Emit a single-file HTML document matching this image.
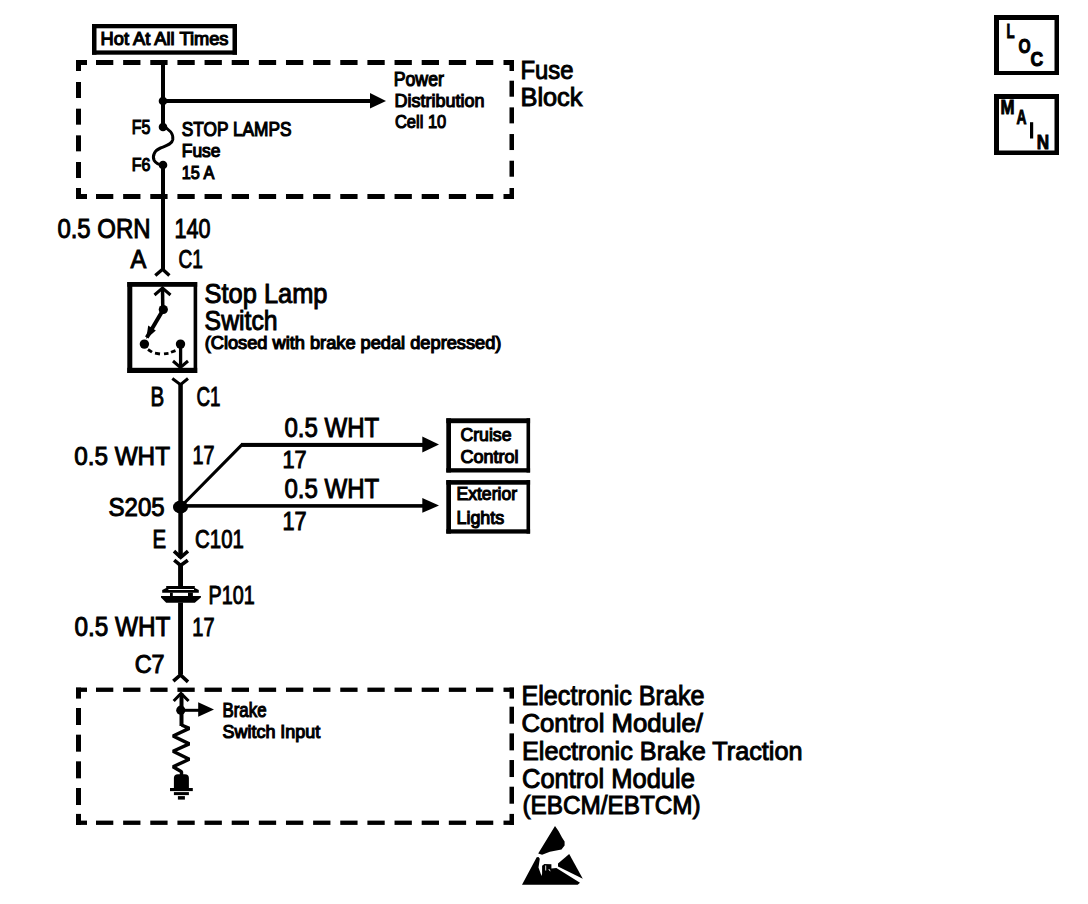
<!DOCTYPE html>
<html><head><meta charset="utf-8"><style>
html,body{margin:0;padding:0;background:#fff;}
svg{display:block;}
text{font-family:"Liberation Sans",sans-serif;fill:#000;}
</style></head><body>
<svg width="1088" height="904" viewBox="0 0 1088 904">
<rect x="76.00" y="60.00" width="11.00" height="5.00" fill="#000"/>
<rect x="76.00" y="60.00" width="5.00" height="11.00" fill="#000"/>
<rect x="503.50" y="60.00" width="10.50" height="5.00" fill="#000"/>
<rect x="509.50" y="60.00" width="4.50" height="11.00" fill="#000"/>
<rect x="76.00" y="194.00" width="11.00" height="5.00" fill="#000"/>
<rect x="76.00" y="188.00" width="5.00" height="11.00" fill="#000"/>
<rect x="503.50" y="194.00" width="10.50" height="5.00" fill="#000"/>
<rect x="509.50" y="188.00" width="4.50" height="11.00" fill="#000"/>
<rect x="96.00" y="60.00" width="17.30" height="5.00" fill="#000"/>
<rect x="96.00" y="194.00" width="17.30" height="5.00" fill="#000"/>
<rect x="123.14" y="60.00" width="17.30" height="5.00" fill="#000"/>
<rect x="123.14" y="194.00" width="17.30" height="5.00" fill="#000"/>
<rect x="150.28" y="60.00" width="17.30" height="5.00" fill="#000"/>
<rect x="150.28" y="194.00" width="17.30" height="5.00" fill="#000"/>
<rect x="177.42" y="60.00" width="17.30" height="5.00" fill="#000"/>
<rect x="177.42" y="194.00" width="17.30" height="5.00" fill="#000"/>
<rect x="204.56" y="60.00" width="17.30" height="5.00" fill="#000"/>
<rect x="204.56" y="194.00" width="17.30" height="5.00" fill="#000"/>
<rect x="231.70" y="60.00" width="17.30" height="5.00" fill="#000"/>
<rect x="231.70" y="194.00" width="17.30" height="5.00" fill="#000"/>
<rect x="258.84" y="60.00" width="17.30" height="5.00" fill="#000"/>
<rect x="258.84" y="194.00" width="17.30" height="5.00" fill="#000"/>
<rect x="285.98" y="60.00" width="17.30" height="5.00" fill="#000"/>
<rect x="285.98" y="194.00" width="17.30" height="5.00" fill="#000"/>
<rect x="313.12" y="60.00" width="17.30" height="5.00" fill="#000"/>
<rect x="313.12" y="194.00" width="17.30" height="5.00" fill="#000"/>
<rect x="340.26" y="60.00" width="17.30" height="5.00" fill="#000"/>
<rect x="340.26" y="194.00" width="17.30" height="5.00" fill="#000"/>
<rect x="367.40" y="60.00" width="17.30" height="5.00" fill="#000"/>
<rect x="367.40" y="194.00" width="17.30" height="5.00" fill="#000"/>
<rect x="394.54" y="60.00" width="17.30" height="5.00" fill="#000"/>
<rect x="394.54" y="194.00" width="17.30" height="5.00" fill="#000"/>
<rect x="421.68" y="60.00" width="17.30" height="5.00" fill="#000"/>
<rect x="421.68" y="194.00" width="17.30" height="5.00" fill="#000"/>
<rect x="448.82" y="60.00" width="17.30" height="5.00" fill="#000"/>
<rect x="448.82" y="194.00" width="17.30" height="5.00" fill="#000"/>
<rect x="475.96" y="60.00" width="17.30" height="5.00" fill="#000"/>
<rect x="475.96" y="194.00" width="17.30" height="5.00" fill="#000"/>
<rect x="76.00" y="82.00" width="5.00" height="16.00" fill="#000"/>
<rect x="509.50" y="80.70" width="4.50" height="16.00" fill="#000"/>
<rect x="76.00" y="108.67" width="5.00" height="16.00" fill="#000"/>
<rect x="509.50" y="107.37" width="4.50" height="16.00" fill="#000"/>
<rect x="76.00" y="135.34" width="5.00" height="16.00" fill="#000"/>
<rect x="509.50" y="134.04" width="4.50" height="16.00" fill="#000"/>
<rect x="76.00" y="162.01" width="5.00" height="16.00" fill="#000"/>
<rect x="509.50" y="160.71" width="4.50" height="16.00" fill="#000"/>
<rect x="76.00" y="687.60" width="11.00" height="4.30" fill="#000"/>
<rect x="76.00" y="687.60" width="5.00" height="11.00" fill="#000"/>
<rect x="503.50" y="687.60" width="10.50" height="4.30" fill="#000"/>
<rect x="509.50" y="687.60" width="4.50" height="11.00" fill="#000"/>
<rect x="76.00" y="820.60" width="11.00" height="4.30" fill="#000"/>
<rect x="76.00" y="813.90" width="5.00" height="11.00" fill="#000"/>
<rect x="503.50" y="820.60" width="10.50" height="4.30" fill="#000"/>
<rect x="509.50" y="813.90" width="4.50" height="11.00" fill="#000"/>
<rect x="96.00" y="687.60" width="17.30" height="4.30" fill="#000"/>
<rect x="96.00" y="820.60" width="17.30" height="4.30" fill="#000"/>
<rect x="123.14" y="687.60" width="17.30" height="4.30" fill="#000"/>
<rect x="123.14" y="820.60" width="17.30" height="4.30" fill="#000"/>
<rect x="150.28" y="687.60" width="17.30" height="4.30" fill="#000"/>
<rect x="150.28" y="820.60" width="17.30" height="4.30" fill="#000"/>
<rect x="177.42" y="687.60" width="17.30" height="4.30" fill="#000"/>
<rect x="177.42" y="820.60" width="17.30" height="4.30" fill="#000"/>
<rect x="204.56" y="687.60" width="17.30" height="4.30" fill="#000"/>
<rect x="204.56" y="820.60" width="17.30" height="4.30" fill="#000"/>
<rect x="231.70" y="687.60" width="17.30" height="4.30" fill="#000"/>
<rect x="231.70" y="820.60" width="17.30" height="4.30" fill="#000"/>
<rect x="258.84" y="687.60" width="17.30" height="4.30" fill="#000"/>
<rect x="258.84" y="820.60" width="17.30" height="4.30" fill="#000"/>
<rect x="285.98" y="687.60" width="17.30" height="4.30" fill="#000"/>
<rect x="285.98" y="820.60" width="17.30" height="4.30" fill="#000"/>
<rect x="313.12" y="687.60" width="17.30" height="4.30" fill="#000"/>
<rect x="313.12" y="820.60" width="17.30" height="4.30" fill="#000"/>
<rect x="340.26" y="687.60" width="17.30" height="4.30" fill="#000"/>
<rect x="340.26" y="820.60" width="17.30" height="4.30" fill="#000"/>
<rect x="367.40" y="687.60" width="17.30" height="4.30" fill="#000"/>
<rect x="367.40" y="820.60" width="17.30" height="4.30" fill="#000"/>
<rect x="394.54" y="687.60" width="17.30" height="4.30" fill="#000"/>
<rect x="394.54" y="820.60" width="17.30" height="4.30" fill="#000"/>
<rect x="421.68" y="687.60" width="17.30" height="4.30" fill="#000"/>
<rect x="421.68" y="820.60" width="17.30" height="4.30" fill="#000"/>
<rect x="448.82" y="687.60" width="17.30" height="4.30" fill="#000"/>
<rect x="448.82" y="820.60" width="17.30" height="4.30" fill="#000"/>
<rect x="475.96" y="687.60" width="17.30" height="4.30" fill="#000"/>
<rect x="475.96" y="820.60" width="17.30" height="4.30" fill="#000"/>
<rect x="76.00" y="708.00" width="5.00" height="17.00" fill="#000"/>
<rect x="509.50" y="706.70" width="4.50" height="17.00" fill="#000"/>
<rect x="76.00" y="734.67" width="5.00" height="17.00" fill="#000"/>
<rect x="509.50" y="733.37" width="4.50" height="17.00" fill="#000"/>
<rect x="76.00" y="761.34" width="5.00" height="17.00" fill="#000"/>
<rect x="509.50" y="760.04" width="4.50" height="17.00" fill="#000"/>
<rect x="76.00" y="788.01" width="5.00" height="17.00" fill="#000"/>
<rect x="509.50" y="786.71" width="4.50" height="17.00" fill="#000"/>
<rect x="92.00" y="24.00" width="145.00" height="4.30" fill="#000"/>
<rect x="92.00" y="50.40" width="145.00" height="4.30" fill="#000"/>
<rect x="92.00" y="24.00" width="4.50" height="30.70" fill="#000"/>
<rect x="232.50" y="24.00" width="4.50" height="30.70" fill="#000"/>
<text x="100.58" y="45.02" font-size="18.10" font-weight="normal" textLength="127.85" lengthAdjust="spacingAndGlyphs" stroke="#000" stroke-width="1.15">Hot At All Times</text>
<rect x="994.00" y="15.00" width="65.00" height="5.00" fill="#000"/>
<rect x="994.00" y="71.00" width="65.00" height="4.00" fill="#000"/>
<rect x="994.00" y="15.00" width="5.00" height="60.00" fill="#000"/>
<rect x="1054.50" y="15.00" width="4.50" height="60.00" fill="#000"/>
<rect x="994.00" y="94.00" width="65.00" height="5.00" fill="#000"/>
<rect x="994.00" y="150.50" width="65.00" height="4.50" fill="#000"/>
<rect x="994.00" y="94.00" width="5.00" height="61.00" fill="#000"/>
<rect x="1054.50" y="94.00" width="4.50" height="61.00" fill="#000"/>
<text x="1006.50" y="38.30" font-size="20.35" font-weight="bold" textLength="8.11" lengthAdjust="spacingAndGlyphs" stroke="#000" stroke-width="1.0">L</text>
<text x="1018.40" y="52.70" font-size="19.77" font-weight="bold" textLength="12.11" lengthAdjust="spacingAndGlyphs" stroke="#000" stroke-width="1.0">O</text>
<text x="1030.60" y="65.90" font-size="20.20" font-weight="bold" textLength="12.69" lengthAdjust="spacingAndGlyphs" stroke="#000" stroke-width="1.0">C</text>
<text x="1000.50" y="114.10" font-size="20.93" font-weight="bold" textLength="14.01" lengthAdjust="spacingAndGlyphs" stroke="#000" stroke-width="1.0">M</text>
<text x="1016.50" y="124.30" font-size="19.77" font-weight="bold" textLength="10.00" lengthAdjust="spacingAndGlyphs" stroke="#000" stroke-width="1.0">A</text>
<rect x="1030.00" y="122.20" width="3.20" height="16.30" fill="#000"/>
<text x="1036.70" y="148.70" font-size="20.49" font-weight="bold" textLength="12.39" lengthAdjust="spacingAndGlyphs" stroke="#000" stroke-width="1.0">N</text>
<rect x="161.00" y="60.00" width="4.00" height="67.00" fill="#000"/>
<circle cx="163.00" cy="101.00" r="4.30" fill="#000"/>
<rect x="163.00" y="99.00" width="209.00" height="4.00" fill="#000"/>
<polygon points="370.00,93.00 386.00,101.00 370.00,108.50" fill="#000"/>
<text x="393.68" y="86.22" font-size="19.69" font-weight="normal" textLength="50.24" lengthAdjust="spacingAndGlyphs" stroke="#000" stroke-width="1.15">Power</text>
<text x="394.57" y="106.92" font-size="18.97" font-weight="normal" textLength="89.84" lengthAdjust="spacingAndGlyphs" stroke="#000" stroke-width="1.15">Distribution</text>
<text x="394.97" y="127.62" font-size="18.97" font-weight="normal" textLength="51.26" lengthAdjust="spacingAndGlyphs" stroke="#000" stroke-width="1.15">Cell 10</text>
<text x="520.50" y="78.50" font-size="25.73" font-weight="normal" textLength="53.02" lengthAdjust="spacingAndGlyphs" stroke="#000" stroke-width="1.0">Fuse</text>
<text x="520.50" y="106.20" font-size="25.73" font-weight="normal" textLength="61.95" lengthAdjust="spacingAndGlyphs" stroke="#000" stroke-width="1.0">Block</text>
<circle cx="163.00" cy="127.00" r="4.30" fill="#000"/>
<circle cx="163.00" cy="165.00" r="4.30" fill="#000"/>
<path d="M163,126.5 C169.5,129 173.5,134 172.8,139.5 C172,144.5 165.5,146 160.5,148 C154.5,150.5 152,156 154.2,160.5 C156,163.5 159,164.8 163,165" fill="none" stroke="#000" stroke-width="3" stroke-linecap="butt"/>
<text x="131.67" y="134.23" font-size="19.84" font-weight="normal" textLength="18.64" lengthAdjust="spacingAndGlyphs" stroke="#000" stroke-width="1.15">F5</text>
<text x="131.67" y="171.23" font-size="18.10" font-weight="normal" textLength="18.64" lengthAdjust="spacingAndGlyphs" stroke="#000" stroke-width="1.15">F6</text>
<text x="181.77" y="136.23" font-size="19.55" font-weight="normal" textLength="109.74" lengthAdjust="spacingAndGlyphs" stroke="#000" stroke-width="1.15">STOP LAMPS</text>
<text x="181.77" y="157.23" font-size="17.95" font-weight="normal" textLength="38.66" lengthAdjust="spacingAndGlyphs" stroke="#000" stroke-width="1.15">Fuse</text>
<text x="181.77" y="179.43" font-size="18.53" font-weight="normal" textLength="32.54" lengthAdjust="spacingAndGlyphs" stroke="#000" stroke-width="1.15">15 A</text>
<rect x="161.00" y="165.00" width="4.00" height="104.00" fill="#000"/>
<text x="57.40" y="238.10" font-size="27.03" font-weight="normal" textLength="93.21" lengthAdjust="spacingAndGlyphs" stroke="#000" stroke-width="1.0">0.5 ORN</text>
<text x="174.50" y="238.20" font-size="27.18" font-weight="normal" textLength="36.02" lengthAdjust="spacingAndGlyphs" stroke="#000" stroke-width="1.0">140</text>
<text x="130.60" y="268.40" font-size="25.73" font-weight="normal" textLength="15.79" lengthAdjust="spacingAndGlyphs" stroke="#000" stroke-width="1.0">A</text>
<text x="178.40" y="268.10" font-size="25.58" font-weight="normal" textLength="24.32" lengthAdjust="spacingAndGlyphs" stroke="#000" stroke-width="1.0">C1</text>
<polyline points="155.30,275.50 162.60,269.30 169.40,275.50" fill="none" stroke="#000" stroke-width="3.4" stroke-linejoin="miter" stroke-linecap="butt"/>
<rect x="127.30" y="282.00" width="69.90" height="4.80" fill="#000"/>
<rect x="127.30" y="367.80" width="69.90" height="5.20" fill="#000"/>
<rect x="127.30" y="282.00" width="5.00" height="91.00" fill="#000"/>
<rect x="193.60" y="282.00" width="3.60" height="91.00" fill="#000"/>
<polyline points="154.50,295.00 162.50,288.00 170.50,295.00" fill="none" stroke="#000" stroke-width="3" stroke-linejoin="miter" stroke-linecap="butt"/>
<line x1="162.50" y1="288.00" x2="162.80" y2="309.00" stroke="#000" stroke-width="3.5" stroke-linecap="butt"/>
<circle cx="163.30" cy="309.50" r="4.60" fill="#000"/>
<line x1="163.00" y1="310.00" x2="146.80" y2="337.50" stroke="#000" stroke-width="4" stroke-linecap="butt"/>
<polygon points="146.20,339.00 148.20,325.50 155.80,330.50" fill="#000"/>
<circle cx="144.40" cy="344.10" r="4.70" fill="#000"/>
<circle cx="180.50" cy="344.10" r="4.70" fill="#000"/>
<line x1="148.00" y1="349.50" x2="152.00" y2="352.20" stroke="#000" stroke-width="2.8" stroke-linecap="butt"/>
<line x1="155.00" y1="353.20" x2="160.00" y2="354.00" stroke="#000" stroke-width="2.8" stroke-linecap="butt"/>
<line x1="164.00" y1="353.90" x2="168.50" y2="353.30" stroke="#000" stroke-width="2.8" stroke-linecap="butt"/>
<line x1="171.00" y1="352.30" x2="175.50" y2="350.60" stroke="#000" stroke-width="2.8" stroke-linecap="butt"/>
<line x1="180.60" y1="344.00" x2="180.60" y2="367.00" stroke="#000" stroke-width="3.3" stroke-linecap="butt"/>
<polyline points="173.00,361.00 180.40,367.50 188.00,361.00" fill="none" stroke="#000" stroke-width="3" stroke-linejoin="miter" stroke-linecap="butt"/>
<text x="204.60" y="302.90" font-size="27.33" font-weight="normal" textLength="122.88" lengthAdjust="spacingAndGlyphs" stroke="#000" stroke-width="1.0">Stop Lamp</text>
<text x="204.60" y="330.30" font-size="27.62" font-weight="normal" textLength="73.01" lengthAdjust="spacingAndGlyphs" stroke="#000" stroke-width="1.0">Switch</text>
<text x="204.67" y="349.43" font-size="17.51" font-weight="normal" textLength="296.74" lengthAdjust="spacingAndGlyphs" stroke="#000" stroke-width="1.15">(Closed with brake pedal depressed)</text>
<polyline points="172.30,378.50 180.50,384.70 188.00,378.50" fill="none" stroke="#000" stroke-width="3" stroke-linejoin="miter" stroke-linecap="butt"/>
<rect x="178.30" y="384.00" width="4.50" height="174.00" fill="#000"/>
<text x="150.60" y="406.10" font-size="28.05" font-weight="normal" textLength="13.69" lengthAdjust="spacingAndGlyphs" stroke="#000" stroke-width="1.0">B</text>
<text x="196.50" y="406.10" font-size="28.05" font-weight="normal" textLength="24.02" lengthAdjust="spacingAndGlyphs" stroke="#000" stroke-width="1.0">C1</text>
<text x="74.20" y="464.50" font-size="26.16" font-weight="normal" textLength="95.80" lengthAdjust="spacingAndGlyphs" stroke="#000" stroke-width="1.0">0.5 WHT</text>
<text x="192.50" y="464.40" font-size="25.87" font-weight="normal" textLength="22.00" lengthAdjust="spacingAndGlyphs" stroke="#000" stroke-width="1.0">17</text>
<ellipse cx="180.50" cy="507.00" rx="7.50" ry="6.50" fill="#000"/>
<polyline points="180.50,507.00 241.80,444.90 424.00,444.90" fill="none" stroke="#000" stroke-width="3.1" stroke-linejoin="miter" stroke-linecap="butt"/>
<rect x="241.00" y="442.90" width="183.00" height="4.00" fill="#000"/>
<polygon points="422.30,436.60 439.00,444.60 422.30,452.40" fill="#000"/>
<rect x="180.50" y="504.10" width="243.50" height="3.60" fill="#000"/>
<polygon points="422.30,498.00 439.00,505.60 422.30,512.80" fill="#000"/>
<text x="108.50" y="515.90" font-size="25.87" font-weight="normal" textLength="56.11" lengthAdjust="spacingAndGlyphs" stroke="#000" stroke-width="1.0">S205</text>
<text x="284.40" y="437.10" font-size="27.18" font-weight="normal" textLength="94.90" lengthAdjust="spacingAndGlyphs" stroke="#000" stroke-width="1.0">0.5 WHT</text>
<text x="282.40" y="468.40" font-size="24.27" font-weight="normal" textLength="24.10" lengthAdjust="spacingAndGlyphs" stroke="#000" stroke-width="1.0">17</text>
<text x="284.40" y="498.30" font-size="27.33" font-weight="normal" textLength="94.90" lengthAdjust="spacingAndGlyphs" stroke="#000" stroke-width="1.0">0.5 WHT</text>
<text x="282.40" y="530.30" font-size="26.02" font-weight="normal" textLength="24.10" lengthAdjust="spacingAndGlyphs" stroke="#000" stroke-width="1.0">17</text>
<rect x="446.30" y="418.30" width="83.80" height="4.90" fill="#000"/>
<rect x="446.30" y="468.20" width="83.80" height="4.30" fill="#000"/>
<rect x="446.30" y="418.30" width="4.70" height="54.20" fill="#000"/>
<rect x="526.50" y="418.30" width="3.60" height="54.20" fill="#000"/>
<rect x="446.30" y="480.10" width="83.80" height="4.60" fill="#000"/>
<rect x="446.30" y="529.30" width="83.80" height="4.30" fill="#000"/>
<rect x="446.30" y="480.10" width="4.70" height="53.50" fill="#000"/>
<rect x="526.50" y="480.10" width="3.60" height="53.50" fill="#000"/>
<text x="460.47" y="441.03" font-size="18.97" font-weight="normal" textLength="51.05" lengthAdjust="spacingAndGlyphs" stroke="#000" stroke-width="1.15">Cruise</text>
<text x="460.47" y="463.23" font-size="18.10" font-weight="normal" textLength="58.03" lengthAdjust="spacingAndGlyphs" stroke="#000" stroke-width="1.15">Control</text>
<text x="456.47" y="500.43" font-size="18.53" font-weight="normal" textLength="60.56" lengthAdjust="spacingAndGlyphs" stroke="#000" stroke-width="1.15">Exterior</text>
<text x="456.47" y="523.72" font-size="18.68" font-weight="normal" textLength="47.77" lengthAdjust="spacingAndGlyphs" stroke="#000" stroke-width="1.15">Lights</text>
<text x="152.50" y="548.30" font-size="26.31" font-weight="normal" textLength="13.59" lengthAdjust="spacingAndGlyphs" stroke="#000" stroke-width="1.0">E</text>
<text x="195.10" y="548.30" font-size="26.31" font-weight="normal" textLength="48.71" lengthAdjust="spacingAndGlyphs" stroke="#000" stroke-width="1.0">C101</text>
<polyline points="174.00,551.20 180.70,557.30 188.00,551.20" fill="none" stroke="#000" stroke-width="3.6" stroke-linejoin="miter" stroke-linecap="butt"/>
<polyline points="174.20,560.20 180.60,565.50 187.80,560.20" fill="none" stroke="#000" stroke-width="3.6" stroke-linejoin="miter" stroke-linecap="butt"/>
<rect x="178.10" y="564.00" width="4.90" height="22.50" fill="#000"/>
<path d="M166.2,586.1 L194.8,586.1 L194.8,588 L198.8,590 L198.8,592.8 L162.2,592.8 L162.2,590 L166.2,588 Z M168.4,588.9 L194,588.9 L194,590.1 L168.4,590.1 Z" fill="#000" fill-rule="evenodd"/>
<rect x="170.00" y="592.60" width="2.80" height="3.70" fill="#000"/>
<rect x="188.00" y="592.60" width="4.90" height="3.70" fill="#000"/>
<polygon points="161.00,596.10 200.90,596.10 200.90,597.50 194.80,602.80 166.20,602.80 161.00,597.50" fill="#000"/>
<rect x="178.10" y="602.50" width="4.90" height="72.00" fill="#000"/>
<text x="208.60" y="604.30" font-size="25.44" font-weight="normal" textLength="46.01" lengthAdjust="spacingAndGlyphs" stroke="#000" stroke-width="1.0">P101</text>
<text x="74.40" y="636.30" font-size="26.89" font-weight="normal" textLength="96.00" lengthAdjust="spacingAndGlyphs" stroke="#000" stroke-width="1.0">0.5 WHT</text>
<text x="192.30" y="636.10" font-size="25.73" font-weight="normal" textLength="22.20" lengthAdjust="spacingAndGlyphs" stroke="#000" stroke-width="1.0">17</text>
<text x="134.70" y="672.90" font-size="25.29" font-weight="normal" textLength="29.92" lengthAdjust="spacingAndGlyphs" stroke="#000" stroke-width="1.0">C7</text>
<polyline points="173.30,681.20 180.50,675.00 188.00,681.80" fill="none" stroke="#000" stroke-width="3.6" stroke-linejoin="miter" stroke-linecap="butt"/>
<polyline points="173.70,701.00 181.00,693.50 188.60,701.00" fill="none" stroke="#000" stroke-width="3" stroke-linejoin="miter" stroke-linecap="butt"/>
<rect x="179.50" y="693.50" width="4.00" height="32.50" fill="#000"/>
<circle cx="180.80" cy="710.20" r="4.60" fill="#000"/>
<rect x="181.00" y="708.80" width="19.00" height="3.00" fill="#000"/>
<polygon points="198.20,702.30 214.00,709.50 198.20,716.70" fill="#000"/>
<polyline points="181.50,725.00 189.30,728.40 173.00,736.00 189.30,743.90 173.00,751.30 189.30,759.30 173.00,766.70 181.50,771.70 181.50,776.00" fill="none" stroke="#000" stroke-width="3.4" stroke-linejoin="bevel" stroke-linecap="butt"/>
<path d="M173.9,788 L173.9,778 Q173.9,774.2 177.9,774.2 L184.9,774.2 Q188.9,774.2 188.9,778 L188.9,788 Z" fill="#000"/>
<rect x="170.00" y="788.00" width="22.80" height="3.10" fill="#000"/>
<rect x="173.90" y="792.10" width="15.00" height="3.00" fill="#000"/>
<rect x="177.90" y="796.10" width="7.00" height="3.50" fill="#000"/>
<text x="222.47" y="717.32" font-size="19.69" font-weight="normal" textLength="44.05" lengthAdjust="spacingAndGlyphs" stroke="#000" stroke-width="1.15">Brake</text>
<text x="222.47" y="738.32" font-size="18.39" font-weight="normal" textLength="97.85" lengthAdjust="spacingAndGlyphs" stroke="#000" stroke-width="1.15">Switch Input</text>
<text x="521.50" y="705.30" font-size="27.33" font-weight="normal" textLength="183.02" lengthAdjust="spacingAndGlyphs" stroke="#000" stroke-width="1.0">Electronic Brake</text>
<text x="521.50" y="732.20" font-size="25.00" font-weight="normal" textLength="181.42" lengthAdjust="spacingAndGlyphs" stroke="#000" stroke-width="1.0">Control Module/</text>
<text x="522.00" y="760.40" font-size="26.02" font-weight="normal" textLength="280.53" lengthAdjust="spacingAndGlyphs" stroke="#000" stroke-width="1.0">Electronic Brake Traction</text>
<text x="522.00" y="787.50" font-size="26.74" font-weight="normal" textLength="172.87" lengthAdjust="spacingAndGlyphs" stroke="#000" stroke-width="1.0">Control Module</text>
<text x="522.40" y="814.30" font-size="25.87" font-weight="normal" textLength="178.31" lengthAdjust="spacingAndGlyphs" stroke="#000" stroke-width="1.0">(EBCM/EBTCM)</text>
<polygon points="555.00,826.00 558.50,831.00 562.00,837.50 564.60,841.50 564.60,845.50 561.50,849.40 549.90,851.80 542.10,854.80 538.20,853.50" fill="#000"/>
<polygon points="558.00,863.40 558.00,866.50 582.80,878.80 569.20,854.10" fill="#000"/>
<polygon points="522.00,884.80 577.70,884.80 580.00,882.70 556.40,868.00 551.40,868.40 551.40,864.20 544.40,864.00 542.10,865.70 542.10,873.50 541.50,876.00 538.50,867.50 539.80,858.70 538.50,857.00 536.70,857.20" fill="#000"/>
<path d="M545.7,865.5 L545.7,870.5 M548.8,869 L550.2,871.2" stroke="#fff" stroke-width="0.9" fill="none"/>
</svg>
</body></html>
